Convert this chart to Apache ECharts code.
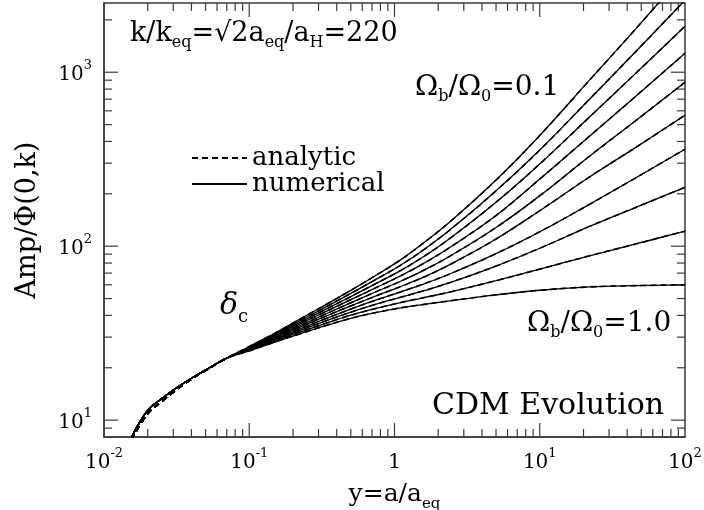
<!DOCTYPE html>
<html><head><meta charset="utf-8">
<script src="https://cdn.jsdelivr.net/npm/echarts@6/dist/echarts.min.js"></script>
<style>html,body{margin:0;padding:0;background:#fff}#c{width:704px;height:510px}</style>
</head><body><div id="c"></div>
<script>
// Omega_b / Omega_0 values of the ten curves
const ratios = ['0.1','0.2','0.3','0.4','0.5','0.6','0.7','0.8','0.9','1.0'];
// early common part (all curves coincide)
const earlyX = [0.0155, 0.02, 0.025, 0.03, 0.04, 0.05, 0.07];
const earlyNumerical = [8.0, 11.4, 13.3, 14.9, 17.4, 19.4, 22.7];
const earlyAnalytic  = [7.7, 10.9, 12.8, 14.5, 17.2, 19.3, 22.7];
// later part, one array per curve
const lateX = [0.1, 0.15, 0.22, 0.33, 0.5, 0.7, 1.1, 1.6, 2.4, 5, 10, 22, 45, 100];
const amp01 = [26.5, 31.6, 37.8, 45.7, 55.7, 65.9, 83.4, 105, 137.7, 240, 433, 900, 1747, 3724];
const amp02 = [26.3, 31.2, 37.0, 44.35, 53.5, 62.55, 77.7, 95.8, 123.7, 208, 357, 700, 1294, 2594];
const amp03 = [26.15, 30.8, 36.2, 43.0, 51.3, 59.35, 72.4, 87.5, 110.7, 179, 297, 553, 972, 1838];
const amp04 = [26.0, 30.4, 35.5, 41.75, 49.25, 56.3, 67.45, 79.9, 98.2, 150, 243, 429, 718, 1286];
const amp05 = [25.8, 30.0, 34.7, 40.5, 47.25, 53.45, 62.85, 72.9, 87.5, 128, 195, 329, 521, 876];
const amp06 = [25.65, 29.6, 34.0, 39.3, 45.35, 50.7, 58.6, 66.55, 78.3, 110, 160, 250, 366, 566];
const amp07 = [25.5, 29.2, 33.25, 38.1, 43.5, 48.1, 54.6, 60.8, 69.2, 90.6, 121, 174, 245, 361];
const amp08 = [25.3, 28.9, 32.55, 37.0, 41.75, 45.65, 50.85, 55.5, 61.7, 76.9, 97.3, 130, 166, 218];
const amp09 = [25.2, 28.5, 31.9, 35.85, 40.1, 43.3, 47.4, 50.65, 54.5, 63.4, 73.8, 88, 102.6, 122];
const amp10 = [25.0, 28.1, 31.2, 34.8, 38.5, 41.1, 44.2, 46.3, 48.5, 52.5, 55.8, 58.3, 59.3, 60];
const lateAmps = [amp01, amp02, amp03, amp04, amp05, amp06, amp07, amp08, amp09, amp10];
// axis tick values
const xMajorTicks = [0.1, 1, 10];
const xMinorTicks = [0.02,0.03,0.04,0.05,0.06,0.07,0.08,0.09,0.2,0.3,0.4,0.5,0.6,0.7,0.8,0.9,2,3,4,5,6,7,8,9,20,30,40,50,60,70,80,90];
const yMajorTicks = [10, 100, 1000];
const yMinorTicks = [9,20,30,40,50,60,70,80,90,200,300,400,500,600,700,800,900,2000];

const FONT = 'DejaVu Serif';
const TICK = '#3a3a3a';

function pow10Label(v) {
  const e = Math.round(Math.log10(v));
  if (Math.abs(v - Math.pow(10, e)) > 1e-6 * Math.pow(10, e)) return '';
  if (e === 0) return '{b|1}';
  return '{b|10}{s|' + e + '}';
}
const supRich = {
  b: {fontFamily: FONT, fontSize: 20, lineHeight: 26, verticalAlign: 'bottom', color: '#000'},
  s: {fontFamily: FONT, fontSize: 13, lineHeight: 14, verticalAlign: 'top', color: '#000'}
};

function build(early, late) {
  return earlyX.map((x, j) => [x, early[j]]).concat(lateX.map((x, j) => [x, late[j]]));
}

const series = [];
lateAmps.forEach((amp, i) => {
  series.push({
    name: 'numerical', type: 'line', data: build(earlyNumerical, amp),
    symbol: 'none', smooth: 0.4, clip: true,
    lineStyle: {color: '#000', width: 1.3, type: 'solid'}, itemStyle: {color: '#000'}
  });
});
lateAmps.forEach((amp, i) => {
  series.push({
    name: 'analytic', type: 'line', data: build(earlyAnalytic, amp),
    symbol: 'none', smooth: 0.4, clip: true,
    lineStyle: {color: '#000', width: 1.6, type: [6, 4]}, itemStyle: {color: '#000'}
  });
});

function tickSeries(values, isX, major) {
  return {
    type: 'custom', coordinateSystem: 'cartesian2d', silent: true, clip: false,
    data: values.map(v => isX ? [v, 100] : [1, v]),
    renderItem: function (params, api) {
      const cs = params.coordSys;
      const len = major ? 14 : 8;
      const st = {stroke: TICK, lineWidth: 1.2};
      if (isX) {
        const px = api.coord([api.value(0), 100])[0];
        return {type: 'group', children: [
          {type: 'line', shape: {x1: px, y1: cs.y + cs.height, x2: px, y2: cs.y + cs.height - len}, style: st},
          {type: 'line', shape: {x1: px, y1: cs.y, x2: px, y2: cs.y + len}, style: st}
        ]};
      } else {
        const py = api.coord([1, api.value(1)])[1];
        return {type: 'group', children: [
          {type: 'line', shape: {x1: cs.x, y1: py, x2: cs.x + len, y2: py}, style: st},
          {type: 'line', shape: {x1: cs.x + cs.width, y1: py, x2: cs.x + cs.width - len, y2: py}, style: st}
        ]};
      }
    }
  };
}
series.push(tickSeries(xMajorTicks, true, true));
series.push(tickSeries(xMinorTicks, true, false));
series.push(tickSeries(yMajorTicks, false, true));
series.push(tickSeries(yMinorTicks, false, false));

const subRich = (size) => ({s: {fontFamily: FONT, fontSize: size, lineHeight: size, verticalAlign: 'bottom', fill: '#000', color: '#000'}});

const chart = echarts.init(document.getElementById('c'), null, {renderer: 'canvas'});
chart.setOption({
  animation: false,
  backgroundColor: '#fff',
  grid: {left: 104, right: 19, top: 3, bottom: 73, outerBoundsMode: 'none', containLabel: false,
    show: true, borderColor: TICK, borderWidth: 1.5, backgroundColor: 'transparent'},
  xAxis: {
    type: 'log', logBase: 10, min: 0.01, max: 100,
    axisLine: {show: true, lineStyle: {color: TICK, width: 1.5}},
    axisTick: {show: false}, splitLine: {show: false}, minorTick: {show: false},
    axisLabel: {formatter: pow10Label, rich: supRich, margin: 10},
    name: 'y=a/a{s|eq}', nameLocation: 'middle', nameGap: 30,
    nameTextStyle: {fontFamily: FONT, fontSize: 25, color: '#000', lineHeight: 34, rich: subRich(15)}
  },
  yAxis: {
    type: 'log', logBase: 10, min: 8, max: 2500,
    axisLine: {show: true, lineStyle: {color: TICK, width: 1.5}},
    axisTick: {show: false}, splitLine: {show: false}, minorTick: {show: false},
    axisLabel: {formatter: pow10Label, rich: supRich, margin: 12, showMinLabel: false, showMaxLabel: false},
    name: 'Amp/Φ(0,k)', nameLocation: 'middle', nameGap: 63, nameRotate: 90,
    nameTextStyle: {fontFamily: FONT, fontSize: 27, color: '#000'}
  },
  legend: {
    data: ['analytic', 'numerical'], orient: 'vertical', left: 186, top: 140,
    itemWidth: 55, itemHeight: 14, itemGap: 0, selectedMode: false,
    itemStyle: {opacity: 0},
    textStyle: {fontFamily: FONT, fontSize: 26, color: '#000'}
  },
  graphic: [
    {type: 'text', left: 130, top: 17, style: {
      text: 'k/k{s|eq}=√2a{s|eq}/a{s|H}=220', font: '27px "DejaVu Serif"', fill: '#000', lineHeight: 34,
      rich: subRich(16)}},
    {type: 'text', left: 415, top: 70, style: {
      text: 'Ω{s|b}/Ω{s|0}=0.1', font: '28px "DejaVu Serif"', fill: '#000', lineHeight: 35,
      rich: subRich(16)}},
    {type: 'text', left: 527, top: 306, style: {
      text: 'Ω{s|b}/Ω{s|0}=1.0', font: '28px "DejaVu Serif"', fill: '#000', lineHeight: 35,
      rich: subRich(16)}},
    {type: 'text', left: 220, top: 286, style: {
      text: 'δ{s|c}', font: 'italic 30px "DejaVu Serif"', fill: '#000', lineHeight: 40,
      rich: {s: {fontFamily: FONT, fontStyle: 'normal', fontSize: 18, lineHeight: 18, verticalAlign: 'bottom', fill: '#000'}}}},
    {type: 'text', left: 432, top: 391, style: {
      text: 'CDM Evolution', font: '30px "DejaVu Serif"', fill: '#000'}}
  ],
  series: series
});
</script>
</body></html>
